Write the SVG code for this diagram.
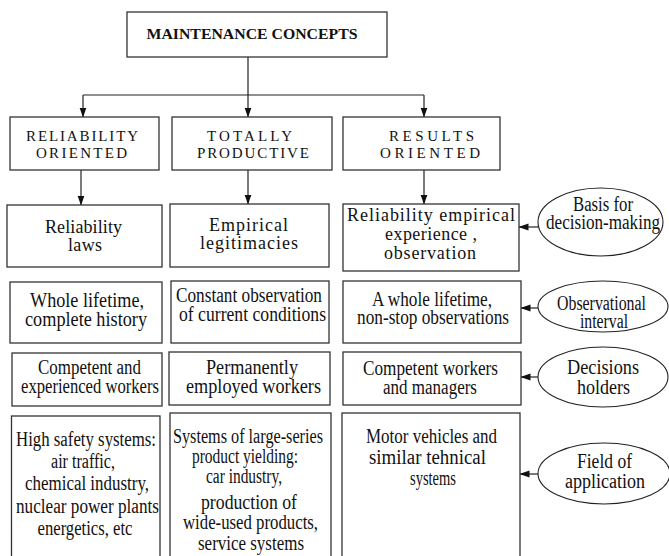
<svg xmlns="http://www.w3.org/2000/svg" width="669" height="556" viewBox="0 0 669 556">
<style>
.box{fill:#fff;stroke:#333;stroke-width:1.3}
.ell{fill:#fff;stroke:#222;stroke-width:1.1}
.ln{fill:none;stroke:#222;stroke-width:1.2}
text{font-family:'Liberation Serif',serif;fill:#111;text-anchor:middle}
.h{font-size:15px}
.t{font-size:20px}
.s{font-size:18px}
.title{font-size:15.5px;font-weight:bold}
</style>
<defs>
<marker id="ar" markerUnits="userSpaceOnUse" markerWidth="10" markerHeight="8" refX="9.5" refY="3.5" orient="auto" viewBox="0 0 10 7">
<path d="M0,0 L10,3.5 L0,7 Z" fill="#111"/>
</marker>
</defs>

<g id="connectors">
<polyline class="ln" points="83,95 424,95"/>
<path class="ln" d="M248,57 V117" marker-end="url(#ar)"/>
<path class="ln" d="M83,95 V117" marker-end="url(#ar)"/>
<path class="ln" d="M424,95 V117" marker-end="url(#ar)"/>
<path class="ln" d="M81,170 V205" marker-end="url(#ar)"/>
<path class="ln" d="M248,170 V204" marker-end="url(#ar)"/>
<path class="ln" d="M424,170 V204" marker-end="url(#ar)"/>
<path class="ln" d="M538,227 H519" marker-end="url(#ar)"/>
<path class="ln" d="M538,308 H521" marker-end="url(#ar)"/>
<path class="ln" d="M538,377 H521" marker-end="url(#ar)"/>
<path class="ln" d="M538,474 H520" marker-end="url(#ar)"/>
</g>

<g id="maintenance-concepts">
<rect class="box" x="127" y="12" width="260" height="45"/>
<text class="title" x="252" y="39" textLength="211" lengthAdjust="spacingAndGlyphs">MAINTENANCE CONCEPTS</text>
</g>

<g id="reliability-oriented">
<rect class="box" x="10" y="117" width="149" height="53"/>
<text class="h" x="82" y="141" textLength="112">RELIABILITY</text>
<text class="h" x="81.5" y="158" textLength="91">ORIENTED</text>
</g>
<g id="totally-productive">
<rect class="box" x="172" y="117" width="160" height="53"/>
<text class="h" x="249.5" y="141" textLength="85">TOTALLY</text>
<text class="h" x="253" y="158" textLength="112">PRODUCTIVE</text>
</g>
<g id="results-oriented">
<rect class="box" x="343" y="117" width="157" height="53"/>
<text class="h" x="431.5" y="141" textLength="85">RESULTS</text>
<text class="h" x="430" y="158" textLength="100">ORIENTED</text>
</g>

<g id="reliability-laws">
<rect class="box" x="7" y="205" width="155" height="62"/>
<text class="s" x="83.5" y="233" textLength="77">Reliability</text>
<text class="s" x="85" y="251" textLength="34">laws</text>
</g>
<g id="empirical-legitimacies">
<rect class="box" x="170" y="204" width="159" height="63"/>
<text class="s" x="248.5" y="231" textLength="79">Empirical</text>
<text class="s" x="249" y="249" textLength="98">legitimacies</text>
</g>
<g id="reliability-empirical">
<rect class="box" x="343" y="204" width="176" height="67"/>
<text class="s" x="431" y="221" textLength="168">Reliability empirical</text>
<text class="s" x="431" y="240" textLength="92">experience ,</text>
<text class="s" x="430" y="259" textLength="92">observation</text>
</g>

<g id="whole-lifetime">
<rect class="box" x="10" y="282" width="152" height="61"/>
<text class="t" x="87" y="307" textLength="114" lengthAdjust="spacingAndGlyphs">Whole lifetime,</text>
<text class="t" x="86" y="326" textLength="122" lengthAdjust="spacingAndGlyphs">complete history</text>
</g>
<g id="constant-observation">
<rect class="box" x="171" y="281" width="158" height="62"/>
<text class="t" x="249" y="302" textLength="146" lengthAdjust="spacingAndGlyphs">Constant observation</text>
<text class="t" x="252.5" y="321" textLength="147" lengthAdjust="spacingAndGlyphs">of current conditions</text>
</g>
<g id="whole-lifetime-nonstop">
<rect class="box" x="343" y="281" width="178" height="62"/>
<text class="t" x="432" y="306" textLength="120" lengthAdjust="spacingAndGlyphs">A whole lifetime,</text>
<text class="t" x="433" y="324" textLength="152" lengthAdjust="spacingAndGlyphs">non-stop observations</text>
</g>

<g id="competent-experienced">
<rect class="box" x="12" y="353" width="150" height="53"/>
<text class="t" x="89.5" y="374" textLength="103" lengthAdjust="spacingAndGlyphs">Competent and</text>
<text class="t" x="90" y="393" textLength="138" lengthAdjust="spacingAndGlyphs">experienced workers</text>
</g>
<g id="permanently-employed">
<rect class="box" x="169" y="352" width="161" height="53"/>
<text class="t" x="252" y="374" textLength="92" lengthAdjust="spacingAndGlyphs">Permanently</text>
<text class="t" x="253.5" y="393" textLength="135" lengthAdjust="spacingAndGlyphs">employed workers</text>
</g>
<g id="competent-managers">
<rect class="box" x="343" y="352" width="178" height="53"/>
<text class="t" x="430.5" y="375" textLength="135" lengthAdjust="spacingAndGlyphs">Competent workers</text>
<text class="t" x="430" y="394" textLength="94" lengthAdjust="spacingAndGlyphs">and managers</text>
</g>

<g id="high-safety">
<rect class="box" x="11.5" y="416" width="148.5" height="150"/>
<text class="t" x="86" y="446" textLength="140" lengthAdjust="spacingAndGlyphs">High safety systems:</text>
<text class="t" x="83" y="468" textLength="64" lengthAdjust="spacingAndGlyphs">air traffic,</text>
<text class="t" x="87" y="490" textLength="124" lengthAdjust="spacingAndGlyphs">chemical industry,</text>
<text class="t" x="87.5" y="513" textLength="143" lengthAdjust="spacingAndGlyphs">nuclear power plants</text>
<text class="t" x="85" y="535" textLength="95" lengthAdjust="spacingAndGlyphs">energetics, etc</text>
</g>
<g id="large-series">
<rect class="box" x="170" y="413" width="161" height="153"/>
<text class="t" x="248" y="443" textLength="150" lengthAdjust="spacingAndGlyphs">Systems of large-series</text>
<text class="t" x="245" y="463" textLength="106" lengthAdjust="spacingAndGlyphs">product yielding:</text>
<text class="t" x="244" y="483" textLength="76" lengthAdjust="spacingAndGlyphs">car industry,</text>
<text class="t" x="249" y="509" textLength="96" lengthAdjust="spacingAndGlyphs">production of</text>
<text class="t" x="250.5" y="529" textLength="135" lengthAdjust="spacingAndGlyphs">wide-used products,</text>
<text class="t" x="251" y="550" textLength="106" lengthAdjust="spacingAndGlyphs">service systems</text>
</g>
<g id="motor-vehicles">
<rect class="box" x="342" y="413" width="178" height="153"/>
<text class="t" x="431.5" y="443" textLength="131" lengthAdjust="spacingAndGlyphs">Motor vehicles and</text>
<text class="t" x="427.5" y="464" textLength="117" lengthAdjust="spacingAndGlyphs">similar tehnical</text>
<text class="t" x="433" y="485" textLength="46" lengthAdjust="spacingAndGlyphs">systems</text>
</g>

<g id="basis-for-decision-making">
<ellipse class="ell" cx="600.5" cy="222" rx="62.5" ry="34"/>
<text class="t" x="603" y="211" textLength="60" lengthAdjust="spacingAndGlyphs">Basis for</text>
<text class="t" x="603" y="229" textLength="114" lengthAdjust="spacingAndGlyphs">decision-making</text>
</g>
<g id="observational-interval">
<ellipse class="ell" cx="603" cy="306.5" rx="65" ry="25.5"/>
<text class="t" x="601.5" y="310" textLength="89" lengthAdjust="spacingAndGlyphs">Observational</text>
<text class="t" x="604" y="328" textLength="48" lengthAdjust="spacingAndGlyphs">interval</text>
</g>
<g id="decisions-holders">
<ellipse class="ell" cx="603" cy="377" rx="65" ry="30"/>
<text class="t" x="603" y="374" textLength="72" lengthAdjust="spacingAndGlyphs">Decisions</text>
<text class="t" x="603.5" y="394" textLength="53" lengthAdjust="spacingAndGlyphs">holders</text>
</g>
<g id="field-of-application">
<ellipse class="ell" cx="604" cy="473.5" rx="66" ry="30.5"/>
<text class="t" x="604.5" y="468" textLength="55" lengthAdjust="spacingAndGlyphs">Field of</text>
<text class="t" x="605" y="488" textLength="80" lengthAdjust="spacingAndGlyphs">application</text>
</g>
</svg>
